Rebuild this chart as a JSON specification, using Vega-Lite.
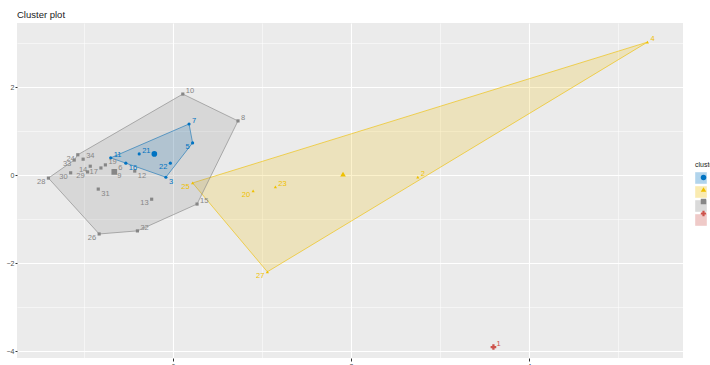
{
  "$schema": "https://vega.github.io/schema/vega-lite/v6.json",
  "width": 666,
  "height": 335,
  "autosize": {"type": "none"},
  "padding": {"left": 17, "top": 23, "right": 27, "bottom": 7},
  "background": "white",
  "title": {"text": "Cluster plot", "anchor": "start", "frame": "group", "fontSize": 9.5, "fontWeight": "normal", "font": "Liberation Sans", "color": "#1a1a1a", "offset": 4},
  "config": {
    "view": {"fill": "#EBEBEB", "stroke": null},
    "font": "Liberation Sans"
  },
  "datasets": {
    "pts": [
      {"id": "8", "cluster": "3", "x": 0.73, "y": 1.23},
      {"id": "10", "cluster": "3", "x": 0.11, "y": 1.84},
      {"id": "24", "cluster": "3", "x": -1.07, "y": 0.46},
      {"id": "34", "cluster": "3", "x": -1.01, "y": 0.36},
      {"id": "33", "cluster": "3", "x": -1.11, "y": 0.34},
      {"id": "19", "cluster": "3", "x": -0.76, "y": 0.23},
      {"id": "14", "cluster": "3", "x": -0.93, "y": 0.2},
      {"id": "30", "cluster": "3", "x": -1.15, "y": 0.05},
      {"id": "29", "cluster": "3", "x": -0.96, "y": 0.07},
      {"id": "17", "cluster": "3", "x": -0.81, "y": 0.16},
      {"id": "28", "cluster": "3", "x": -1.4, "y": -0.07},
      {"id": "6", "cluster": "3", "x": -0.65, "y": 0.09},
      {"id": "9", "cluster": "3", "x": -0.66, "y": 0.1},
      {"id": "12", "cluster": "3", "x": -0.43, "y": 0.09},
      {"id": "31", "cluster": "3", "x": -0.84, "y": -0.32},
      {"id": "13", "cluster": "3", "x": -0.24, "y": -0.55},
      {"id": "15", "cluster": "3", "x": 0.27, "y": -0.66},
      {"id": "26", "cluster": "3", "x": -0.83, "y": -1.34},
      {"id": "32", "cluster": "3", "x": -0.4, "y": -1.27},
      {"id": "11", "cluster": "1", "x": -0.7, "y": 0.39},
      {"id": "7", "cluster": "1", "x": 0.18, "y": 1.16},
      {"id": "5", "cluster": "1", "x": 0.22, "y": 0.73},
      {"id": "3", "cluster": "1", "x": -0.08, "y": -0.05},
      {"id": "22", "cluster": "1", "x": -0.03, "y": 0.27},
      {"id": "21", "cluster": "1", "x": -0.38, "y": 0.48},
      {"id": "16", "cluster": "1", "x": -0.53, "y": 0.27},
      {"id": "25", "cluster": "2", "x": 0.22, "y": -0.18},
      {"id": "20", "cluster": "2", "x": 0.9, "y": -0.36},
      {"id": "23", "cluster": "2", "x": 1.15, "y": -0.27},
      {"id": "2", "cluster": "2", "x": 2.75, "y": -0.05},
      {"id": "27", "cluster": "2", "x": 1.06, "y": -2.2},
      {"id": "4", "cluster": "2", "x": 5.33, "y": 3.02},
      {"id": "1", "cluster": "4", "x": 3.6, "y": -3.91}
    ],
    "centers": [
      {"cluster": "1", "x": -0.21, "y": 0.48},
      {"cluster": "2", "x": 1.91, "y": 0.02},
      {"cluster": "3", "x": -0.66, "y": 0.07},
      {"cluster": "4", "x": 3.6, "y": -3.91}
    ],
    "hulls": [
      {"grp": "1", "ord": 1, "x": -0.7, "y": 0.39},
      {"grp": "1", "ord": 2, "x": 0.18, "y": 1.16},
      {"grp": "1", "ord": 3, "x": 0.22, "y": 0.73},
      {"grp": "1", "ord": 4, "x": -0.08, "y": -0.05},
      {"grp": "1", "ord": 5, "x": -0.7, "y": 0.39},
      {"grp": "2", "ord": 1, "x": 0.22, "y": -0.18},
      {"grp": "2", "ord": 2, "x": 5.33, "y": 3.02},
      {"grp": "2", "ord": 3, "x": 1.06, "y": -2.2},
      {"grp": "2", "ord": 4, "x": 0.22, "y": -0.18},
      {"grp": "3", "ord": 1, "x": -1.4, "y": -0.07},
      {"grp": "3", "ord": 2, "x": -1.11, "y": 0.34},
      {"grp": "3", "ord": 3, "x": -1.07, "y": 0.46},
      {"grp": "3", "ord": 4, "x": 0.11, "y": 1.84},
      {"grp": "3", "ord": 5, "x": 0.73, "y": 1.23},
      {"grp": "3", "ord": 6, "x": 0.27, "y": -0.66},
      {"grp": "3", "ord": 7, "x": -0.4, "y": -1.27},
      {"grp": "3", "ord": 8, "x": -0.83, "y": -1.34},
      {"grp": "3", "ord": 9, "x": -1.4, "y": -0.07},
      {"grp": "4", "ord": 1, "x": 3.6, "y": -3.91}
    ]
  },
  "encoding": {
    "x": {
      "field": "x", "type": "quantitative", "title": null,
      "scale": {"domain": [-1.753, 5.73], "nice": false, "zero": false},
      "axis": {
        "values": [-1, 0, 1, 2, 3, 4, 5],
        "labelExpr": "datum.value % 2 === 0 ? datum.label : ''",
        "domain": false,
        "gridColor": "white",
        "gridWidth": {"condition": {"test": "datum.value % 2 === 0", "value": 1.1}, "value": 0.5},
        "tickColor": "#333333",
        "tickOpacity": {"condition": {"test": "datum.value % 2 === 0", "value": 1}, "value": 0},
        "tickSize": 3,
        "labelColor": "#4D4D4D",
        "labelFontSize": 7,
        "labelPadding": 1
      }
    },
    "y": {
      "field": "y", "type": "quantitative", "title": null,
      "scale": {"domain": [-4.159, 3.455], "nice": false, "zero": false},
      "axis": {
        "values": [-4, -3, -2, -1, 0, 1, 2, 3],
        "labelExpr": "datum.value % 2 === 0 ? datum.label : ''",
        "domain": false,
        "gridColor": "white",
        "gridWidth": {"condition": {"test": "datum.value % 2 === 0", "value": 1.1}, "value": 0.5},
        "tickColor": "#333333",
        "tickOpacity": {"condition": {"test": "datum.value % 2 === 0", "value": 1}, "value": 0},
        "tickSize": 2,
        "labelColor": "#4D4D4D",
        "labelFontSize": 7,
        "labelPadding": 1
      }
    }
  },
  "layer": [
    {
      "data": {"name": "hulls"},
      "mark": {"type": "line", "strokeWidth": 0.7, "fillOpacity": 0.2, "strokeOpacity": 0.9},
      "encoding": {
        "order": {"field": "ord", "type": "quantitative"},
        "fill": {
          "field": "grp", "type": "nominal",
          "scale": {"range": ["#0073C2", "#EFC000", "#868686", "#CD534C"]},
          "legend": {"orient": "none", "legendX": 678, "legendY": 138, "title": "cluster", "titleFontSize": 7, "titleFontWeight": "normal", "titleColor": "#1a1a1a", "titlePadding": 4, "symbolType": "square", "symbolSize": 121, "symbolOpacity": 0.3, "symbolStrokeWidth": 0.6, "labelFontSize": 11, "rowPadding": 0, "padding": 0}
        },
        "stroke": {
          "field": "grp", "type": "nominal",
          "scale": {"range": ["#0073C2", "#EFC000", "#868686", "#CD534C"]},
          "legend": {"orient": "none", "legendX": 678, "legendY": 138, "title": "cluster", "titleFontSize": 7, "titleFontWeight": "normal", "titleColor": "#1a1a1a", "titlePadding": 4, "symbolType": "square", "symbolSize": 121, "symbolOpacity": 0.3, "symbolStrokeWidth": 0.6, "labelFontSize": 11, "rowPadding": 0, "padding": 0}
        }
      }
    },
    {
      "data": {"name": "pts"},
      "mark": {"type": "point", "filled": true, "size": 10, "opacity": 1},
      "encoding": {
        "color": {
          "field": "cluster", "type": "nominal",
          "scale": {"domain": ["1", "2", "3", "4"], "range": ["#0073C2", "#EFC000", "#868686", "#CD534C"]},
          "legend": {"orient": "none", "legendX": 678, "legendY": 138, "title": "cluster", "titleFontSize": 7, "titleFontWeight": "normal", "titleColor": "transparent", "titlePadding": 4, "symbolSize": 30, "symbolOffset": 3, "symbolStrokeWidth": 0, "labelFontSize": 11, "rowPadding": 0, "padding": 0}
        },
        "shape": {
          "field": "cluster", "type": "nominal",
          "scale": {"domain": ["1", "2", "3", "4"], "range": ["circle", "triangle-up", "square", "cross"]},
          "legend": {"orient": "none", "legendX": 678, "legendY": 138, "title": "cluster", "titleFontSize": 7, "titleFontWeight": "normal", "titleColor": "transparent", "titlePadding": 4, "symbolSize": 30, "symbolOffset": 3, "symbolStrokeWidth": 0, "labelFontSize": 11, "rowPadding": 0, "padding": 0}
        }
      }
    },
    {
      "data": {"name": "centers"},
      "mark": {"type": "point", "filled": true, "size": 32, "opacity": 1},
      "encoding": {
        "color": {"field": "cluster", "type": "nominal"},
        "shape": {"field": "cluster", "type": "nominal"}
      }
    },
    {
      "data": {"name": "pts"},
      "transform": [{"filter": {"field": "id", "oneOf": ["33", "28", "30", "14", "24", "29", "17", "13", "26", "25", "20", "27", "22", "5"]}}],
      "mark": {"type": "text", "fontSize": 7.5, "align": "right", "dx": -3, "dy": 4, "baseline": "middle"},
      "encoding": {
        "text": {"field": "id"},
        "color": {"field": "cluster", "type": "nominal"}
      }
    },
    {
      "data": {"name": "pts"},
      "transform": [{"filter": {"field": "id", "oneOf": ["12", "31", "3", "16", "9"]}}],
      "mark": {"type": "text", "fontSize": 7.5, "align": "left", "dx": 3, "dy": 5, "baseline": "middle"},
      "encoding": {
        "text": {"field": "id"},
        "color": {"field": "cluster", "type": "nominal"}
      }
    },
    {
      "data": {"name": "pts"},
      "transform": [{"filter": {"field": "id", "oneOf": ["10", "8", "7", "11", "21", "34", "19", "15", "32", "23", "2", "4", "1", "6"]}}],
      "mark": {"type": "text", "fontSize": 7.5, "align": "left", "dx": 3, "dy": -3, "baseline": "middle"},
      "encoding": {
        "text": {"field": "id"},
        "color": {"field": "cluster", "type": "nominal"}
      }
    }
  ]
}
